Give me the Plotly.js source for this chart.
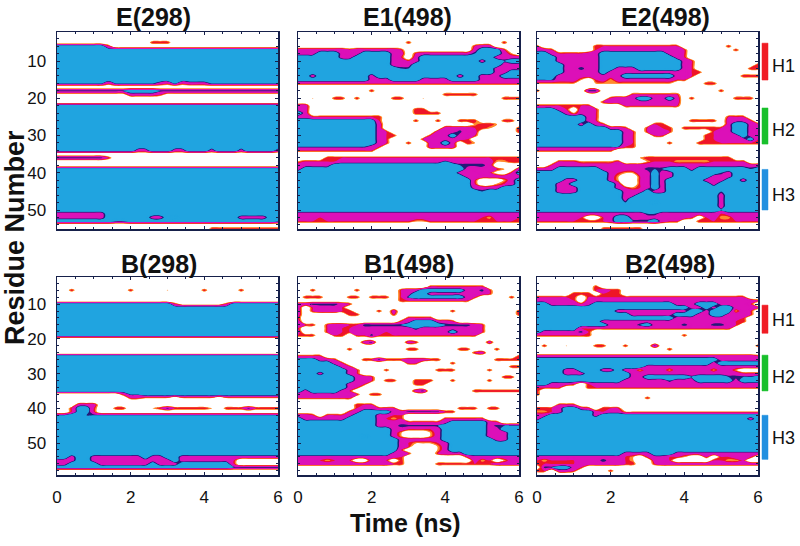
<!DOCTYPE html>
<html><head><meta charset="utf-8"><script src="https://cdn.plot.ly/plotly-3.0.1.min.js"></script>
<style>html,body{margin:0;padding:0;background:#fff}#c{width:800px;height:546px}</style></head>
<body><div id="c"></div><script>
// time grid (ns)
const timeNs=[0,0.2,0.4,0.6,0.8,1,1.2,1.4,1.6,1.8,2,2.2,2.4,2.6,2.8,3,3.2,3.4,3.6,3.8,4,4.2,4.4,4.6,4.8,5,5.2,5.4,5.6,5.8,6];
// each row: one residue (starting at 2), one digit per time step; digit = helical persistence class 0..6
const E298=[
"00000 00000 00000 00000 00000 00000 0",
"00000 00000 00000 00000 00000 00000 0",
"00000 00000 00000 00000 00000 00000 0",
"00000 00000 00033 30000 00000 00000 0",
"66666 66300 00000 00000 00000 00000 0",
"66666 66666 66666 66666 66666 66666 6",
"66666 66666 66666 66666 66666 66666 6",
"66666 66666 66666 66666 66666 66666 6",
"66666 66666 66666 66666 66666 66666 6",//10
"66666 66666 66666 66666 66666 66666 6",
"66666 66666 66666 66666 66666 66666 6",
"66666 66666 66666 66666 66666 66666 6",
"66666 66666 66666 66666 66666 66666 6",
"66666 66666 66666 66666 66666 66666 6",
"55555 55355 55554 35344 45555 55555 5",//16
"00000 00000 00000 00000 00000 00000 0",
"55555 55555 66665 55555 55555 55555 5",
"11111 11111 44443 11111 11111 11111 1",
"00000 00000 00000 00000 00000 00000 0",//20
"00000 00000 00000 00000 00000 00000 0",
"66666 66666 66666 66666 66666 66666 6",
"66666 66666 66666 66666 66666 66666 6",
"66666 66666 66666 66666 66666 66666 6",
"66666 66666 66666 66666 66666 66666 6",
"66666 66666 66666 66666 66666 66666 6",
"66666 66666 66666 66666 66666 66666 6",
"66666 66666 66666 66666 66666 66666 6",
"66666 66666 66666 66666 66666 66666 6",
"66666 66666 66666 66666 66666 66666 6",//30
"66666 66666 66666 66666 66666 66666 6",
"66666 66666 66666 66666 66666 66666 6",
"66666 66666 66666 66666 66666 66666 6",
"66666 66666 64466 64466 64666 46666 4",//34
"00000 00000 00000 00000 00000 00000 0",
"55555 55300 00000 00000 00000 00000 0",
"00000 00000 00000 00000 00000 00000 0",
"00000 00000 00000 00000 00000 00000 0",
"66666 66666 66666 66666 66666 66666 6",
"66666 66666 66666 66666 66666 66666 6",//40
"66666 66666 66666 66666 66666 66666 6",
"66666 66666 66666 66666 66666 66666 6",
"66666 66666 66666 66666 66666 66666 6",
"66666 66666 66666 66666 66666 66666 6",
"66666 66666 66666 66666 66666 66666 6",
"66666 66666 66666 66666 66666 66666 6",
"66666 66666 66666 66666 66666 66666 6",
"66666 66666 66666 66666 66666 66666 6",
"66666 66666 66666 66666 66666 66666 6",
"66666 66666 66666 66666 66666 66666 6",//50
"44444 44666 66666 66666 66666 66666 6",
"44444 44666 66644 65666 66666 44446 6",
"66666 66655 66666 66666 66666 66666 5",
"00000 00000 00000 00000 00000 00000 0",
"00000 00000 00000 00000 03333 33333 3"];
const E1498=[
"00000 00000 00000 00000 00000 00000 0",
"00000 00000 00000 00000 00000 00000 0",
"00000 00000 00000 00000 00000 00000 0",
"00000 00000 00000 30000 00000 00030 0",
"00000 00000 00000 00000 00003 44000 0",
"44444 44344 44443 00000 00004 66630 0",
"44466 64346 66644 03444 44445 66642 0",
"66666 64466 66643 04666 66666 66444 4",
"66666 66666 66644 34666 66666 46656 6",//10
"66666 66666 66644 46666 66666 66644 4",
"66666 66666 66665 56666 66666 66444 4",
"66666 66666 66666 66666 66666 66446 6",
"66466 66666 46666 66666 66466 44466 6",
"66666 66666 44466 66444 46666 44444 4",
"33333 33333 33333 33333 33333 33333 3",//16
"00000 00000 00000 00000 00000 00000 0",
"00000 00000 30000 00000 00000 00000 0",
"00000 00000 00000 00000 33333 00000 0",
"00200 33030 00033 00200 00000 00033 3",//20
"00000 00000 00000 00000 00000 00000 0",
"44000 00000 00000 00000 00000 00000 0",
"44000 00000 00000 03300 00000 00000 0",
"64000 00000 00000 03333 00000 00000 0",
"44333 33333 33000 00000 00000 00000 0",
"66666 66666 63000 03003 00333 00033 0",
"66666 66666 64000 00000 00002 33200 0",
"66666 66666 64000 00000 44443 32000 3",
"66666 66666 64300 00004 44534 00000 3",//29
"66666 66666 64330 00034 46443 00000 0",
"66666 66666 64300 00344 44430 00000 0",
"66666 66666 64300 30044 64032 00000 0",
"55555 55555 43000 00044 44000 00000 0",
"33333 33333 30000 00000 00000 00000 0",
"00000 00000 00000 00000 00000 00000 0",
"00003 33333 33333 33333 33333 33333 3",
"23333 34444 44444 44444 54444 44223 3",
"44444 66666 66666 66666 66555 54000 0",
"46666 66666 66666 66666 66643 44320 4",
"66666 66666 66666 66666 66444 33103 6",//40
"66666 66666 66666 66666 66644 44444 4",
"66666 66666 66666 66666 66663 00024 6",
"66666 66666 66666 66666 66663 00234 6",
"66666 66666 66666 66666 66664 44466 6",
"66666 66666 66666 66666 66666 56666 6",
"66666 66666 66666 66666 66666 66666 6",
"66666 66666 66666 66666 66666 66666 6",
"66666 66666 66666 66666 66666 66666 6",
"66666 66666 66666 66666 66666 66666 6",
"66666 66666 66666 66666 66666 66666 6",//50
"44444 44444 44444 44444 44444 44444 4",
"44434 44444 44444 44444 44444 32444 3",
"33333 33333 33333 32233 33333 33333 3",
"00000 00000 00000 00000 00000 00000 0",
"00000 00000 00000 00000 00000 00000 0"];
const E2498=[
"00000 00000 00000 00000 00000 00000 0",
"00000 00000 00000 00000 00000 00000 0",
"00000 00000 00000 00000 00000 00000 0",
"00000 00000 00000 00000 00000 00000 0",
"30000 00033 33333 33333 00000 03000 0",
"44300 00034 44444 44444 30000 00300 0",
"66433 33446 66666 66644 30000 00000 0",
"66644 44446 66666 66664 30000 00000 0",
"66644 44446 66666 66666 43000 00000 0",//10
"66664 44446 66666 66666 43000 00000 3",
"66664 45446 64446 66666 43000 00003 3",
"66664 44446 44444 44444 43300 00000 0",
"66644 44444 44666 66664 43000 00033 3",
"55544 42034 24444 44443 30000 00000 0",
"22222 20022 22222 22220 00033 00000 0",//16
"00000 00000 00000 00000 00000 00000 0",
"30000 00550 00000 00000 00000 30000 0",
"00000 00000 00033 33333 00000 00000 0",
"00000 00000 34446 64464 03000 00333 0",//20
"00000 00003 44444 44444 00000 00000 0",
"33333 33300 00333 33333 00000 00000 0",
"66643 04430 00000 00000 00000 00000 0",
"66664 24430 00000 00000 00000 00000 0",
"66666 66430 00000 00000 00000 03330 0",
"66666 66430 00000 00000 03333 04443 0",
"66666 64643 00000 03300 00000 04664 3",
"66666 66666 44300 34330 33333 34664 3",
"66666 66666 66430 34430 00003 44664 3",
"66666 66666 66430 03300 00033 44464 3",//30
"66666 66666 66430 00000 00033 44446 3",
"66666 66666 66430 00030 00333 33333 3",
"55555 55555 55330 00000 00000 00000 0",
"33333 33333 30000 00000 00000 00000 0",
"00000 00000 00000 00000 00000 00000 0",
"00000 00000 00002 33333 33333 33000 0",
"00033 32222 23000 23332 22223 33330 0",
"00344 44444 44444 44444 44444 44444 4",
"44466 66664 44444 55566 64666 66665 6",
"66666 66666 43224 46446 66666 54666 6",//40
"66666 66666 42003 46446 66664 44666 6",
"66664 46666 42003 46466 66644 46646 6",
"66644 66666 64003 46466 66664 66666 6",
"66644 46666 64323 46466 66666 66666 6",
"66643 46666 66444 64466 66666 56666 6",
"66666 66666 66446 66666 66666 46666 6",
"66666 66666 66466 66666 66666 46666 6",
"66666 66666 66566 65666 66666 46666 6",
"66666 66666 66666 66666 66666 46666 6",
"66666 66666 66666 66666 66666 56666 6",//50
"44444 44444 44444 55444 44444 34444 4",
"44444 43003 46644 44444 43034 22444 4",
"33333 33333 46655 56433 00333 33333 3",
"00000 00000 00000 00000 00000 00000 0",
"00000 00003 33333 00000 00000 00000 0"];
const B298=[
"00000 00000 00000 00000 00000 00000 0",
"00000 00000 00000 00000 00000 00000 0",
"00000 00000 00000 00000 00000 00000 0",
"00000 00000 00000 00000 00000 00000 0",
"00300 00000 30000 20000 30000 30000 0",
"00000 00000 00000 00000 00000 00000 0",
"00000 00000 00000 00000 00000 00000 0",
"00000 00000 00000 00000 00000 00000 0",
"66666 66666 66666 63111 11136 66666 6",//10
"66666 66666 66666 66666 66666 66666 6",
"66666 66666 66666 66666 66666 66666 6",
"66666 66666 66666 66666 66666 66666 6",
"66666 66666 66666 66666 66666 66666 6",
"66666 66666 66666 66666 66666 66666 6",
"66666 66666 66666 66666 66666 66666 6",
"66666 66666 66666 66666 66666 66666 6",
"66666 66666 66666 66666 66666 66666 6",
"66666 66666 66666 66666 66666 66666 6",
"00000 00000 00000 00000 00000 00000 0",//20
"00000 00000 00000 00000 00000 00000 0",
"00000 00000 00000 00000 00000 00000 0",
"00000 00000 00000 00000 00000 00000 0",
"00000 00000 00000 00000 00000 00000 0",
"66666 66666 66666 66666 66666 66666 6",
"66666 66666 66666 66666 66666 66666 6",
"66666 66666 66666 66666 66666 66666 6",
"66666 66666 66666 66666 66666 66666 6",
"66666 66666 66666 66666 66666 66666 6",
"66666 66666 66666 66666 66666 66666 6",//30
"66666 66666 66666 66666 66666 66666 6",
"66666 66666 66666 66666 66666 66666 6",
"66666 66666 66666 66666 66666 66666 6",
"66666 66666 66666 66666 66666 66666 6",
"66666 66666 66666 66666 66666 66666 6",
"00000 00003 55666 66666 66666 66666 6",
"00000 00000 33222 20222 22022 22222 2",
"00000 00000 00000 00000 00000 00000 0",
"00044 40000 00000 00000 00000 00000 0",
"00366 30033 00023 53333 32033 35333 3",//40
"00366 30000 00000 00000 00000 00000 0",
"55665 55555 55555 55555 55555 55555 5",
"66666 66666 66666 66666 66666 66666 6",
"66666 66666 66666 66666 66666 66666 6",
"66666 66666 66666 66666 66666 66666 6",
"66666 66666 66666 66666 66666 66666 6",
"66666 66666 66666 66666 66666 66666 6",
"66666 66666 66666 66666 66666 66666 6",
"66666 66666 66666 66666 66666 66666 6",
"66666 66666 66666 66666 66666 66666 6",//50
"66666 66666 66666 66666 66666 66666 6",
"66666 66666 66666 66666 66666 66666 6",
"66666 66666 66666 66666 66666 66666 6",
"66466 44444 44644 66444 44444 44444 4",
"44466 44444 44444 46444 44443 00000 0",
"44666 64444 44464 44666 66663 00000 0",
"66666 66666 66666 66666 66665 55555 5",
"00000 00000 00000 00000 00000 00000 0",
"00000 00000 00000 00000 00000 00000 0"];
const B1498=[
"00000 00000 00000 00000 00000 00000 0",
"00000 00000 00000 00000 00000 00000 0",
"00000 00000 00000 00000 00000 00000 0",
"00000 00000 00000 00033 33333 30000 0",
"00300 00030 00003 44666 66644 53000 0",
"00000 00000 00003 46644 44444 43000 0",
"03330 00330 33303 56666 66643 00003 0",
"00000 00000 00003 33333 33330 00000 0",
"44555 54300 00000 00000 00000 00000 0",//10
"40344 43000 00000 00000 00000 00000 0",
"40344 43300 03040 00000 03000 00000 3",
"40000 00330 00030 00000 00000 00000 3",
"30000 00000 00000 33330 00000 00000 0",
"40000 00000 00003 46664 43000 00000 0",
"43303 44335 55555 66666 55554 30000 0",
"30003 43344 44444 45444 44444 30000 0",
"40003 43344 44344 44444 46444 30000 0",
"33300 33033 53333 33333 33333 00000 0",
"00000 00000 00000 00000 00000 00000 0",//20
"00000 00004 50000 43000 00000 04000 0",
"00000 00000 00000 00000 00000 00000 0",
"00000 00300 00000 33000 00330 00300 0",
"00000 00000 00000 00000 00003 40000 0",
"33330 00000 00000 00000 00000 00000 3",
"66644 30003 35333 44433 00000 00333 3",
"66666 43000 00000 33000 03000 00000 0",
"66666 64300 00000 00000 00000 00003 3",
"66666 66430 00300 00003 33000 03000 0",
"66646 66430 00000 00000 00000 00000 0",//30
"66666 66644 30000 00000 00000 00033 0",
"66666 66644 30330 03330 03000 03000 0",
"66666 66443 00000 03300 00000 00000 0",
"66666 66430 00000 00000 00000 00000 0",
"64666 64300 00000 04500 00003 33333 3",
"44444 44430 33000 00000 00000 00000 0",
"33333 33300 00000 00000 00000 00000 0",
"00000 00000 00000 00000 00000 00000 0",
"00000 00033 30000 00000 00000 00000 0",
"00000 00034 43330 00000 00333 03300 0",//40
"00000 00346 66644 55555 33000 00000 0",
"44303 33466 64433 00000 00000 00000 0",
"64444 44666 64323 00000 33333 30000 0",
"66666 66666 64444 33333 46666 64300 0",
"66666 66666 64445 55555 66666 64555 5",
"66666 66666 66644 33334 66666 64466 6",
"66666 66666 66642 00024 66666 64446 6",
"66666 66665 66642 00024 66666 64446 6",
"66666 66666 66664 44444 66666 66446 6",
"66666 66666 66664 32223 46666 66666 6",//50
"66666 66666 66664 30002 46666 66666 6",
"66666 66666 66663 00002 46666 66666 6",
"66666 66666 66644 30003 44466 66666 6",
"44444 44444 44443 00000 00034 44444 4",
"44432 34300 44303 00000 00004 23024 4",
"44444 44444 44433 00003 33333 33444 4",
"00000 00000 00000 00000 00000 00000 0",
"00000 00000 00000 00000 00000 00000 0",
"00000 00000 00000 00000 00000 00000 0"];
const B2498=[
"00000 00000 00000 00000 00000 00000 0",
"00000 00000 00000 00000 00000 00000 0",
"00000 00000 00000 00000 00000 00000 0",
"00000 00030 00000 00000 00000 00000 0",
"00000 00034 33000 00000 00000 00000 0",
"00000 33303 33000 00000 00000 00000 0",
"33333 30333 33333 33333 33333 33330 0",
"44444 30444 44444 44444 44444 44444 3",
"66444 43466 66666 66664 44666 44443 0",//10
"66666 66666 56666 66666 64464 66444 3",
"66666 66666 64444 44444 46646 66243 0",
"66666 66666 66644 44446 66446 64443 0",
"66666 66666 66666 66664 44444 44430 0",
"66666 66664 44444 44444 44444 44330 0",
"66666 66666 44445 64444 54445 54300 0",
"66666 63333 33333 33333 33333 33000 0",
"64444 45300 00000 00000 00000 00000 0",
"33333 33300 00000 00000 30000 00000 0",
"00000 00000 00000 00000 00000 00000 0",//20
"00000 00000 00000 00000 00000 00000 0",
"03002 00033 00300 05000 00000 00000 3",
"00000 00000 00000 00030 00000 00000 0",
"00000 00000 00000 00000 00000 00000 0",
"44444 44444 44444 44444 44444 44444 3",
"66666 66666 66666 66666 66666 44444 4",
"66666 66666 66666 66666 66664 66666 6",
"66666 66666 66666 44444 44444 44444 4",
"66664 46664 46442 44424 33442 44200 0",
"66664 44666 66644 44444 44444 44433 3",//30
"66666 66666 66644 66666 65666 65555 6",
"66666 66666 66444 44454 44666 66466 6",
"66444 30344 44444 44444 44444 44444 4",
"33330 00333 33333 33333 33333 33333 3",
"30000 00000 00000 00000 00000 00000 0",
"30000 00000 00000 00000 00000 00000 0",
"00000 00000 00000 30000 00000 00000 0",
"00000 00000 00000 00000 00000 00000 0",
"00033 30000 00000 00000 00000 00000 0",
"33346 64303 33000 00000 00000 00000 0",//40
"22346 66643 44222 22222 22222 22222 2",
"44666 66646 66666 66666 66666 66666 6",
"46666 66666 66666 66666 66666 66664 6",
"66666 66666 66666 66666 66666 66666 6",
"66666 66666 66666 66666 66666 66666 6",
"66666 66666 66666 66666 66666 66666 6",
"66666 66666 66666 66666 66666 66666 6",
"66666 66666 66666 66666 66666 66666 6",
"66666 66666 66666 66666 66666 66666 6",
"66666 66666 66666 66666 66666 66666 6",//50
"66666 66666 66666 66666 66666 66666 6",
"66666 66666 66666 66666 66666 66666 6",
"66666 66666 66444 46664 44444 44444 4",
"44444 44444 44320 34433 20030 33443 0",
"32333 34445 44320 04430 00003 32230 0",
"33333 34444 44330 03444 44444 44444 4",
"05566 43000 00000 00000 00000 00000 0",
"33044 30000 30000 00000 00000 00000 0",
"00000 00000 00000 00000 00000 00000 0"];

const panelTitles=["E(298)","E1(498)","E2(498)","B(298)","B1(498)","B2(498)"];
const panelRows=[E298,E1498,E2498,B298,B1498,B2498];
const xTickVals=[0,2,4,6];
const yTickVals=[10,20,30,40,50];
const helixNames=["H1","H2","H3"];
const helixColors=["#f01c24","#18c02c","#2090e0"];
const helixTop=[[5.2,15.1],[22.6,32.3],[39.1,50]];
const helixBottom=[[10.3,18.4],[24.7,35],[42,54.7]];
const helixLabelTop=[11.3,28.5,46];
const helixLabelBottom=[14.6,31,48.6];

const W=800,H=546;
const xDom=[[57,278],[298,519],[537,758]];
const yDom=[[32,229],[277,475]];
const yRange=[[55.1,2.2],[59.2,2.2]];
const titleX=[153.5,407.5,665,159,408.5,670];
const titleY=[17,17,17,264,264,264];
const ink="#16204a";
const T0=1.8,T1=2.4,T2=3.0,T3=4.6,T4=5.0,ZM=6;
const cs=[[0,"#ffffff"],[T0/ZM,"#ffffff"],[T0/ZM,"#ff8a2c"],[T1/ZM,"#ff8a2c"],[T1/ZM,"#ee1528"],[T2/ZM,"#ee1528"],[T2/ZM,"#dc10b8"],[T3/ZM,"#dc10b8"],[T3/ZM,"#241a78"],[T4/ZM,"#241a78"],[T4/ZM,"#20a4e0"],[1,"#20a4e0"]];
const font="Liberation Sans, Arial, sans-serif";

function decode(rows){return rows.map(s=>{const a=s.replace(/ /g,"").split("").map(Number);while(a.length<timeNs.length)a.push(a[a.length-1]);return a.slice(0,timeNs.length);});}

const traces=[],layout={width:W,height:H,margin:{l:0,r:0,t:0,b:0},paper_bgcolor:"#fff",plot_bgcolor:"#fff",showlegend:false,annotations:[],shapes:[]};
panelRows.forEach((rows,i)=>{
  const col=i%3,row=Math.floor(i/3),n=i+1,sfx=n===1?"":String(n);
  traces.push({type:"contour",x:timeNs,y:rows.map((_,k)=>k+2),z:decode(rows),xaxis:"x"+sfx,yaxis:"y"+sfx,
    zmin:0,zmax:ZM,zauto:false,colorscale:cs,showscale:false,hoverinfo:"skip",
    autocontour:false,contours:{coloring:"fill",showlines:false,start:0.2,end:5.8,size:0.2},line:{width:0,smoothing:1}});
  layout["xaxis"+sfx]={domain:[xDom[col][0]/W,xDom[col][1]/W],range:[0,6],anchor:"y"+sfx,tickmode:"array",tickvals:xTickVals,
    showticklabels:row===1,ticks:"inside",ticklen:3,tickwidth:1,tickcolor:ink,minor:{dtick:0.5,ticks:"inside",ticklen:2,tickcolor:ink},
    showline:true,mirror:"allticks",linecolor:ink,linewidth:1.5,showgrid:false,zeroline:false,ticklabelstandoff:6,tickfont:{family:font,size:17,color:"#111"}};
  layout["yaxis"+sfx]={domain:[1-yDom[row][1]/H,1-yDom[row][0]/H],range:yRange[row],anchor:"x"+sfx,tickmode:"array",tickvals:yTickVals,
    showticklabels:col===0,ticks:"inside",ticklen:3,tickwidth:1,tickcolor:ink,minor:{dtick:2,ticks:"inside",ticklen:2,tickcolor:ink},
    showline:true,mirror:"allticks",linecolor:ink,linewidth:1.5,showgrid:false,zeroline:false,ticklabelstandoff:6,tickfont:{family:font,size:17,color:"#111"}};
  layout.annotations.push({xref:"paper",yref:"paper",x:titleX[i]/W,y:1-titleY[i]/H,text:"<b>"+panelTitles[i]+"</b>",showarrow:false,xanchor:"center",yanchor:"middle",font:{family:font,size:25,color:"#111"}});
});
[[helixTop,helixLabelTop,"y3"],[helixBottom,helixLabelBottom,"y6"]].forEach(([spans,labs,yr])=>{
  spans.forEach((sp,j)=>{
    layout.shapes.push({type:"rect",xref:"paper",yref:yr,x0:762/W,x1:768/W,y0:sp[0],y1:sp[1],fillcolor:helixColors[j],line:{color:helixColors[j],width:0.5}});
    layout.annotations.push({xref:"paper",yref:yr,x:770/W,y:labs[j],text:helixNames[j],showarrow:false,xanchor:"left",yanchor:"middle",font:{family:font,size:18,color:"#111"}});
  });
});
layout.annotations.push({xref:"paper",yref:"paper",x:15/W,y:1-238/H,text:"<b>Residue Number</b>",textangle:-90,showarrow:false,xanchor:"center",yanchor:"middle",font:{family:font,size:27,color:"#111"}});
layout.annotations.push({xref:"paper",yref:"paper",x:406/W,y:1-523/H,text:"<b>Time (ns)</b>",showarrow:false,xanchor:"center",yanchor:"middle",font:{family:font,size:25,color:"#111"}});
Plotly.newPlot("c",traces,layout,{displayModeBar:false,staticPlot:true});
</script></body></html>
